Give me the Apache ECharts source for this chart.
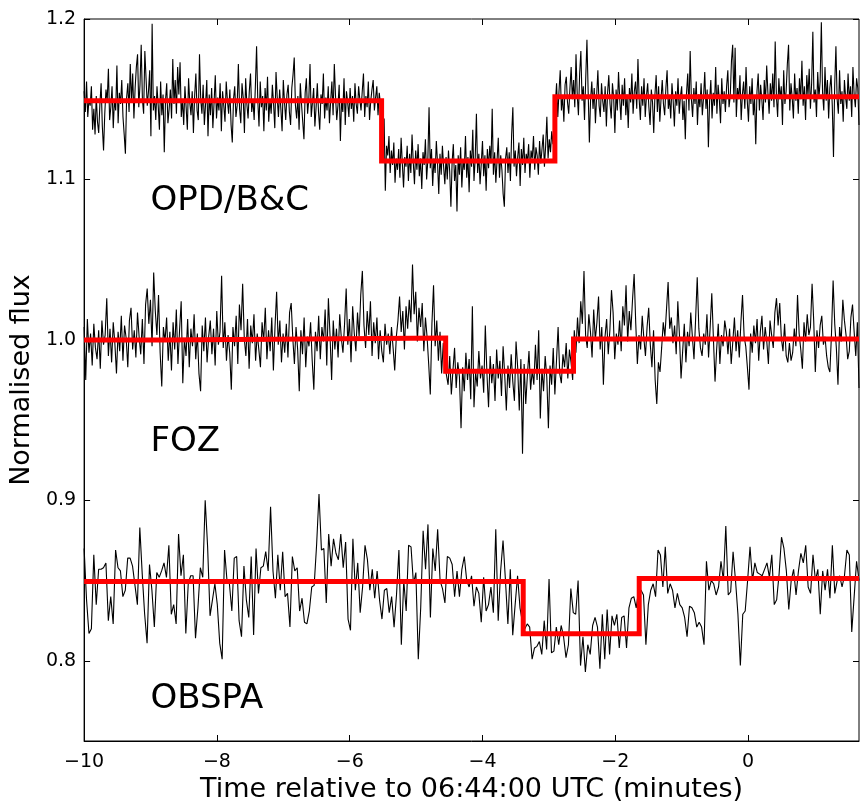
<!DOCTYPE html>
<html>
<head>
<meta charset="utf-8">
<title>Normalised flux</title>
<script src="https://cdn.jsdelivr.net/npm/echarts@6/dist/echarts.min.js"></script>
<style>
html,body{margin:0;padding:0;background:#fff;}
#chart{width:868px;height:810px;}
</style>
</head>
<body>
<div id="chart"></div>
<script>
// time span of all three runs (minutes from 06:44:00 UTC)
var tStart = -10;
var tEnd = 1.67;
var xTicks = [-10, -8, -6, -4, -2, 0];
var yTicks = [0.8, 0.9, 1.0, 1.1, 1.2];

// OPD/B&C light curve
var opdFlux = [
1.155,1.142,1.161,1.139,1.150,1.146,1.158,1.131,1.144,1.128,1.152,1.136,1.129,1.147,1.160,1.133,1.118,1.141,1.156,1.149,
1.169,1.137,1.145,1.158,1.132,1.150,1.143,1.171,1.135,1.154,1.147,1.162,1.139,1.128,1.116,1.151,1.160,1.142,1.172,1.148,
1.166,1.138,1.157,1.170,1.178,1.145,1.159,1.184,1.150,1.141,1.180,1.163,1.146,1.155,1.168,1.127,1.197,1.143,1.152,1.137,
1.158,1.146,1.131,1.161,1.140,1.153,1.117,1.149,1.160,1.135,1.144,1.156,1.138,1.175,1.147,1.162,1.141,1.170,1.153,1.173,
1.139,1.150,1.134,1.158,1.145,1.131,1.163,1.148,1.140,1.155,1.129,1.152,1.166,1.143,1.137,1.178,1.150,1.141,1.159,1.134,
1.147,1.162,1.127,1.153,1.140,1.157,1.132,1.148,1.165,1.138,1.151,1.143,1.160,1.130,1.155,1.146,1.136,1.161,1.149,1.141,
1.156,1.134,1.123,1.150,1.158,1.139,1.146,1.172,1.144,1.135,1.160,1.151,1.129,1.163,1.147,1.138,1.155,1.166,1.142,1.150,
1.137,1.158,1.183,1.149,1.133,1.161,1.145,1.152,1.130,1.157,1.143,1.164,1.136,1.150,1.141,1.159,1.147,1.132,1.167,1.151,
1.139,1.156,1.144,1.130,1.162,1.148,1.137,1.153,1.159,1.142,1.134,1.157,1.165,1.176,1.146,1.138,1.152,1.131,1.160,1.147,
1.136,1.125,1.154,1.163,1.141,1.150,1.172,1.139,1.148,1.157,1.133,1.145,1.160,1.142,1.131,1.153,1.147,1.166,1.138,1.151,
1.143,1.158,1.135,1.149,1.161,1.140,1.172,1.152,1.137,1.146,1.159,1.124,1.150,1.142,1.163,1.134,1.155,1.148,1.139,1.157,
1.144,1.152,1.136,1.160,1.147,1.141,1.158,1.150,1.143,1.155,1.166,1.139,1.152,1.145,1.161,1.137,1.149,1.156,1.162,1.143,
1.151,1.158,1.140,1.154,1.147,
1.133,1.124,1.138,1.093,1.121,1.115,1.127,1.104,1.118,1.109,1.123,1.098,1.113,1.106,1.119,1.101,1.126,1.110,1.095,1.114,
1.108,1.121,1.099,1.116,1.104,1.128,1.111,1.097,1.118,1.106,1.122,1.102,1.113,1.094,1.117,1.109,1.125,1.100,1.112,1.145,
1.107,1.119,1.096,1.113,1.104,1.124,1.110,1.091,1.116,1.103,1.121,1.108,1.097,1.114,1.100,1.118,1.105,1.083,1.111,1.122,
1.099,1.109,1.080,1.115,1.103,1.120,1.095,1.112,1.106,1.127,1.101,1.114,1.092,1.118,1.108,1.131,1.099,1.113,1.141,1.104,
1.116,1.097,1.110,1.124,1.102,1.115,1.093,1.119,1.107,1.121,1.110,1.144,1.103,1.117,1.098,1.112,1.126,1.101,1.115,1.106,
1.091,1.083,1.113,1.120,1.104,1.117,1.099,1.128,1.145,1.108,1.118,1.102,1.114,1.123,1.096,1.119,1.109,1.126,1.104,1.116,
1.111,1.122,1.101,1.118,1.113,1.127,1.106,1.120,1.115,1.103,1.124,1.110,1.119,1.128,1.108,1.121,1.139,1.113,1.125,1.117,
1.130,1.122,1.135,
1.147,1.160,1.139,1.155,1.168,1.143,1.152,1.136,1.159,1.164,1.148,1.141,1.157,1.170,1.150,1.162,1.145,1.178,1.153,1.140,
1.166,1.180,1.149,1.158,1.137,1.163,1.187,1.155,1.123,1.150,1.161,1.144,1.157,1.135,1.152,1.168,1.146,1.139,1.160,1.149,
1.142,1.158,1.133,1.154,1.165,1.147,1.138,1.160,1.151,1.129,1.156,1.143,1.167,1.150,1.137,1.159,1.146,1.163,1.140,1.153,
1.132,1.157,1.148,1.166,1.141,1.155,1.161,1.144,1.175,1.150,1.137,1.158,1.146,1.163,1.139,1.152,1.160,1.145,1.134,1.156,
1.148,1.129,1.153,1.165,1.142,1.158,1.136,1.150,1.162,1.147,1.140,1.157,1.168,1.144,1.151,1.138,1.160,1.149,1.133,1.155,
1.146,1.163,1.141,1.152,1.158,1.137,1.149,1.125,1.154,1.166,1.143,1.180,1.150,1.139,1.157,1.147,1.161,1.134,1.153,1.145,
1.160,1.140,1.151,1.167,1.144,1.156,1.120,1.149,1.162,1.138,1.154,1.146,1.170,1.141,1.159,1.150,1.135,1.163,1.147,1.155,
1.142,1.158,1.168,1.145,1.152,1.174,1.184,1.148,1.182,1.139,1.157,1.150,1.165,1.137,1.153,1.161,1.144,1.170,1.149,1.136,
1.158,1.147,1.163,1.140,1.151,1.122,1.155,1.166,1.143,1.159,1.150,1.137,1.162,1.148,1.171,1.154,1.141,1.160,1.149,1.166,
1.145,1.186,1.152,1.139,1.163,1.150,1.158,1.134,1.168,1.147,1.155,1.172,1.184,1.143,1.160,1.151,1.138,1.166,1.149,1.157,
1.141,1.163,1.150,1.174,1.146,1.158,1.137,1.165,1.152,1.169,1.144,1.160,1.192,1.148,1.156,1.139,1.167,1.151,1.161,1.198,
1.154,1.143,1.170,1.149,1.162,1.138,1.157,1.165,1.146,1.114,1.159,1.183,1.150,1.141,1.168,1.147,1.155,1.136,1.162,1.151,
1.144,1.166,1.149,1.158,1.139,1.170,1.153,1.145,1.163,1.157,1.134
];

// FOZ light curve
var fozFlux = [
1.008,0.975,1.013,0.992,1.004,0.984,1.010,0.995,0.988,1.006,0.982,1.012,0.997,1.003,1.026,0.990,1.007,0.986,1.011,0.998,
0.979,1.005,0.993,1.015,0.987,1.009,1.001,0.983,1.012,1.020,0.994,1.006,0.989,1.017,1.002,0.991,1.013,0.985,1.022,1.032,
1.010,1.025,0.996,1.042,1.018,1.003,1.028,0.992,0.971,1.008,0.999,1.014,0.987,1.005,0.981,1.011,0.994,1.019,0.985,1.006,
1.024,0.973,1.001,0.990,1.013,0.983,1.007,0.996,1.016,0.988,1.004,0.979,0.968,1.009,0.993,1.014,0.986,1.002,1.012,0.991,
1.007,0.984,1.018,0.997,1.005,1.040,0.995,1.011,0.987,1.003,0.992,0.969,1.008,0.996,1.015,0.985,1.022,1.006,1.035,1.001,
0.990,1.013,0.982,1.009,0.998,1.016,0.987,1.004,0.994,0.983,1.011,0.999,1.020,0.988,1.006,0.993,1.014,0.981,1.008,1.030,
0.997,1.012,0.986,1.004,0.992,1.010,0.989,1.017,1.023,1.001,0.985,1.008,0.994,0.968,1.006,0.991,1.014,0.983,1.002,0.996,
1.011,0.987,0.969,1.005,0.993,1.015,0.988,1.008,0.999,1.019,0.984,1.026,1.003,0.975,1.012,0.994,1.007,0.989,1.016,1.001,
0.992,1.010,1.032,0.997,1.013,0.986,1.021,1.004,0.993,1.017,1.002,1.028,1.043,1.009,0.995,1.018,1.003,1.024,0.990,1.011,
0.998,1.014,0.988,1.006,0.993,0.986,1.010,0.997,1.004,0.991,1.008,0.995,0.981,1.002,1.012,1.027,1.005,1.018,0.994,1.021,
1.007,1.025,1.011,1.047,1.016,1.030,0.999,1.020,1.008,1.023,0.993,1.014,1.002,0.985,0.966,1.010,1.034,0.996,1.012,0.987,
1.005,0.979,0.998,0.984,
0.985,0.972,0.990,0.966,0.981,0.995,0.970,0.986,0.977,0.945,0.983,0.968,0.992,0.975,0.988,0.963,1.021,0.958,0.980,0.971,
0.993,0.976,0.984,0.967,1.009,0.979,0.958,0.990,0.973,0.985,0.962,0.994,0.976,0.987,0.965,0.996,0.978,0.956,0.984,0.970,
0.991,0.974,0.962,0.999,0.983,0.956,0.988,0.929,0.985,0.960,0.978,0.993,0.969,0.981,0.972,0.997,0.975,1.006,0.951,0.982,
0.968,0.990,0.977,0.945,0.984,0.972,0.995,0.966,0.987,1.008,0.979,0.973,0.991,0.983,0.998,0.976,0.994,0.986,0.975,
1.006,0.992,1.014,0.998,1.024,1.010,1.043,1.003,0.995,1.016,1.005,0.989,1.019,1.000,1.011,1.027,0.994,1.008,0.972,1.002,
1.013,0.991,1.006,1.031,1.017,0.988,1.004,0.997,1.012,0.993,1.021,1.009,1.034,0.999,1.018,1.006,1.025,1.041,1.010,0.985,
1.003,0.994,1.015,1.001,0.990,1.008,1.020,0.997,0.983,1.006,0.975,0.960,0.986,0.980,0.995,1.011,1.002,1.019,1.036,1.007,
1.014,0.998,1.009,0.991,1.024,1.003,0.976,0.993,1.010,0.986,1.005,0.996,1.017,1.002,0.988,1.013,1.039,1.007,0.995,0.990,
1.004,0.997,1.016,0.989,1.008,1.029,1.001,0.974,0.994,1.010,0.985,1.003,0.996,1.012,1.005,0.991,1.007,0.985,0.999,1.014,
0.993,1.006,0.989,1.011,1.028,1.002,0.996,0.983,0.969,1.004,0.992,1.009,0.998,1.013,0.987,1.005,1.015,0.994,1.008,0.999,
0.985,1.012,1.003,0.995,1.017,1.026,1.009,1.023,1.001,0.993,1.010,0.990,0.986,0.998,0.987,0.992,1.007,0.996,1.028,1.004,
0.994,0.982,1.011,0.999,1.016,1.003,1.008,1.035,1.012,0.980,1.006,0.995,1.009,1.015,0.997,1.002,0.990,0.983,0.980,1.004,
1.037,1.010,0.995,0.972,1.008,0.999,1.025,1.012,1.003,0.988,0.993,1.014,1.022,1.005,0.990,1.011,0.970
];

// OBSPA light curve
var obspaFlux = [
0.870,0.838,0.817,0.820,0.866,0.835,0.857,0.857,0.858,0.861,0.825,0.840,0.823,0.869,0.858,0.856,0.840,0.844,0.864,0.864,
0.859,0.847,0.835,0.883,0.854,0.829,0.811,0.860,0.844,0.821,0.855,0.852,0.856,0.861,0.852,0.872,0.829,0.835,0.823,0.879,
0.853,0.866,0.817,0.848,0.853,0.853,0.814,0.833,0.858,0.852,0.900,0.871,0.828,0.838,0.848,0.835,0.811,0.801,
0.869,0.850,0.848,0.831,0.864,0.865,0.825,0.815,0.859,0.838,0.827,0.865,0.816,0.870,0.842,0.858,0.859,0.868,0.856,0.896,
0.856,0.839,0.866,0.844,0.868,0.840,0.842,0.821,0.865,0.856,0.858,0.831,0.839,0.824,0.823,0.831,0.846,0.847,0.872,0.904,
0.869,0.870,0.836,0.879,0.859,0.876,0.867,0.863,0.879,0.858,0.874,0.826,0.819,0.876,0.844,0.861,0.830,0.846,0.872,0.863,
0.844,0.857,0.839,0.856,0.838,0.826,0.844,0.845,0.830,0.840,0.821,0.841,0.869,0.810,0.850,0.831,0.872,0.871,0.848,0.855,
0.801,0.833,0.881,0.857,0.885,0.827,0.870,0.856,0.882,0.850,0.845,0.836,0.865,0.864,0.860,0.840,0.856,0.840,0.857,0.865,
0.850,
0.846,0.853,0.834,0.846,0.842,0.824,0.852,0.831,0.835,0.846,0.830,0.882,0.825,0.856,0.875,0.850,0.823,0.857,0.816,0.835,
0.853,0.833,
0.824,0.820,0.823,0.821,0.801,0.808,0.809,0.812,0.804,0.825,0.807,0.851,0.805,0.806,0.821,0.810,0.822,0.815,0.802,0.810,
0.845,0.830,0.829,0.850,0.797,0.815,0.793,0.810,0.804,0.822,0.827,0.821,0.795,0.829,0.801,0.832,0.804,0.828,0.822,0.829,
0.808,0.827,0.828,0.808,0.833,0.839,0.840,0.833,0.844,
0.844,0.841,0.810,0.835,0.844,0.848,0.840,0.869,0.866,0.846,0.871,0.842,0.848,0.844,0.833,0.842,0.835,0.833,0.827,0.815,
0.834,0.833,0.830,0.821,0.824,0.821,0.810,0.862,0.844,0.850,0.848,0.841,0.846,0.862,0.850,0.884,0.841,0.843,0.868,0.850,
0.829,0.797,0.829,0.831,0.850,0.871,0.850,0.861,0.855,0.854,0.853,0.857,0.861,0.852,0.866,0.835,0.838,0.854,0.877,0.870,
0.856,0.832,0.850,0.857,0.841,0.856,0.867,0.861,0.872,0.846,0.842,0.866,0.850,0.857,0.829,0.856,0.844,0.857,0.839,0.872,
0.842,0.850,0.853,0.846,0.853,0.869,0.866,0.818,0.840,0.862,0.850
];

// step models: switch times and flux levels
var opdModelT = [-10, -5.52, -2.91, 1.67];
var opdModelF = [1.149, 1.1115, 1.1515];
var fozModelT = [-10, -8.80, -4.555, -2.63, 1.67];
var fozModelF = [1.0000, 1.0012, 0.9805, 1.0006];
var obspaModelT = [-10, -3.387, -1.64, 1.67];
var obspaModelF = [0.8494, 0.8169, 0.8513];

var siteNames = ['OPD/B&C', 'FOZ', 'OBSPA'];
var siteLabelT = [-9, -9, -9];
var siteLabelF = [1.08, 0.93, 0.77];

var FONT = 'DejaVu Sans';

// even cadence from tStart to tEnd
function toPairs(flux) {
    var dt = (tEnd - tStart) / (flux.length - 1);
    return flux.map(function (f, i) {
        return [tStart + i * dt, f];
    });
}

function stepPairs(ts, fs) {
    var out = [];
    for (var i = 0; i < fs.length; i++) {
        out.push([ts[i], fs[i]]);
        out.push([ts[i + 1], fs[i]]);
    }
    return out;
}

function minusFmt(v) {
    return v < 0 ? '\u2212' + Math.abs(v) : String(v);
}

function curve(flux) {
    return {
        type: 'line',
        data: toPairs(flux),
        showSymbol: false,
        symbol: 'none',
        sampling: null,
        lineStyle: {color: '#000', width: 1.1},
        z: 2,
        silent: true
    };
}

function model(ts, fs) {
    return {
        type: 'line',
        data: stepPairs(ts, fs),
        showSymbol: false,
        symbol: 'none',
        lineStyle: {color: '#ff0000', width: 5, join: 'miter'},
        z: 3,
        silent: true
    };
}

var labelData = siteNames.map(function (n, i) {
    return {name: n, value: [siteLabelT[i], siteLabelF[i]]};
});

var chart = echarts.init(document.getElementById('chart'), null, {renderer: 'canvas'});

var option = {
    animation: false,
    backgroundColor: '#fff',
    textStyle: {fontFamily: FONT},
    grid: {left: 84, right: 9, top: 19, bottom: 69, show: true, borderColor: '#000', borderWidth: 1},
    xAxis: [
        {
            type: 'value', min: tStart, max: tEnd,
            name: 'Time relative to 06:44:00 UTC (minutes)',
            nameLocation: 'middle', nameGap: 31,
            nameTextStyle: {fontFamily: FONT, fontSize: 27, color: '#000'},
            axisLine: {show: true, onZero: false, lineStyle: {color: '#000', width: 1}},
            axisTick: {inside: true, length: 6, lineStyle: {color: '#000'}, customValues: xTicks},
            axisLabel: {fontFamily: FONT, fontSize: 19, color: '#000', margin: 12,
                customValues: xTicks, formatter: minusFmt},
            splitLine: {show: false}
        },
        {
            type: 'value', min: tStart, max: tEnd, position: 'top',
            axisLine: {show: false, onZero: false},
            axisTick: {inside: true, length: 6, lineStyle: {color: '#000'}, customValues: xTicks},
            axisLabel: {show: false},
            splitLine: {show: false}
        }
    ],
    yAxis: [
        {
            type: 'value', min: 0.75, max: 1.2,
            name: 'Normalised flux',
            nameLocation: 'middle', nameGap: 45,
            nameTextStyle: {fontFamily: FONT, fontSize: 27, color: '#000'},
            axisLine: {show: true, onZero: false, lineStyle: {color: '#000', width: 1}},
            axisTick: {inside: true, length: 6, lineStyle: {color: '#000'}, customValues: yTicks},
            axisLabel: {fontFamily: FONT, fontSize: 19, color: '#000', margin: 8,
                customValues: yTicks,
                formatter: function (v) { return v.toFixed(1); }},
            splitLine: {show: false}
        },
        {
            type: 'value', min: 0.75, max: 1.2, position: 'right',
            axisLine: {show: false, onZero: false},
            axisTick: {inside: true, length: 6, lineStyle: {color: '#000'}, customValues: yTicks},
            axisLabel: {show: false},
            splitLine: {show: false}
        }
    ],
    series: [
        curve(opdFlux),
        curve(fozFlux),
        curve(obspaFlux),
        model(opdModelT, opdModelF),
        model(fozModelT, fozModelF),
        model(obspaModelT, obspaModelF),
        {
            type: 'scatter',
            data: labelData,
            symbolSize: 0,
            silent: true,
            z: 4,
            itemStyle: {opacity: 1},
            label: {
                show: true,
                formatter: '{b}',
                position: [0, 0],
                align: 'left',
                verticalAlign: 'bottom',
                offset: [0, 7],
                fontFamily: FONT,
                fontSize: 34,
                color: '#000',
                opacity: 1,
                textBorderWidth: 0,
                textBorderColor: 'transparent'
            }
        }
    ]
};

chart.setOption(option);
</script>
</body>
</html>
